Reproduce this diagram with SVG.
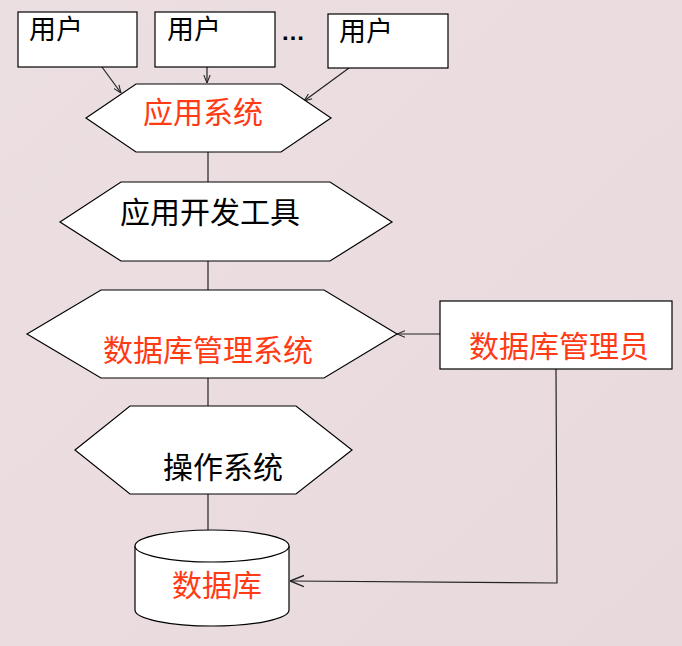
<svg xmlns="http://www.w3.org/2000/svg" width="682" height="646" viewBox="0 0 682 646">
  <style>
    .box { fill: #ffffff; stroke: #000000; stroke-width: 1.2; }
    .edge { fill: none; stroke: #222222; stroke-width: 1.2; }
    .t { font-family: "Liberation Serif", "Noto Sans CJK SC", serif; font-size: 30px; text-anchor: middle; dominant-baseline: central; }
    .blk { fill: #000000; }
    .red { fill: #ff3a14; }
    .usr { font-family: "Liberation Serif", "Noto Sans CJK SC", serif; font-size: 27px; fill: #000000; }
  </style>
  <defs>
    <linearGradient id="bg" x1="0" y1="0" x2="1" y2="1">
      <stop offset="0" stop-color="#ecdfe2"/>
      <stop offset="1" stop-color="#e8d9dc"/>
    </linearGradient>
    <marker id="arr" viewBox="0 0 10 10" refX="10" refY="5" markerWidth="8" markerHeight="8" orient="auto" markerUnits="userSpaceOnUse">
      <path d="M0,1 L10,5 L0,9" fill="none" stroke="#222222" stroke-width="1.3"/>
    </marker>
    <marker id="arrBig" viewBox="0 0 10 10" refX="10" refY="5" markerWidth="14" markerHeight="14" orient="auto" markerUnits="userSpaceOnUse">
      <path d="M0,1 L10,5 L0,9" fill="none" stroke="#222222" stroke-width="1"/>
    </marker>
  </defs>

  <rect width="682" height="646" fill="url(#bg)"/>

  <!-- connectors -->
  <g id="connectors">
    <line class="edge" x1="102" y1="67" x2="121" y2="93" marker-end="url(#arr)"/>
    <line class="edge" x1="207" y1="67" x2="207" y2="83" marker-end="url(#arr)"/>
    <line class="edge" x1="349" y1="68" x2="304" y2="101" marker-end="url(#arr)"/>
    <line class="edge" x1="208" y1="152" x2="208" y2="182"/>
    <line class="edge" x1="208" y1="261" x2="208" y2="290"/>
    <line class="edge" x1="208" y1="378" x2="208" y2="406"/>
    <line class="edge" x1="208" y1="494" x2="208" y2="530"/>
    <line class="edge" x1="440" y1="334" x2="397" y2="334" marker-end="url(#arr)"/>
    <polyline class="edge" points="556,369 557,583 290,581" marker-end="url(#arrBig)"/>
  </g>

  <!-- users -->
  <g id="user1">
    <rect class="box" x="18" y="12" width="119" height="55"/>
    <text class="usr" x="29" y="39">用户</text>
  </g>
  <g id="user2">
    <rect class="box" x="155" y="12" width="120" height="55"/>
    <text class="usr" x="167" y="39">用户</text>
  </g>
  <text x="293" y="40" font-family="Liberation Sans, sans-serif" font-size="24" font-weight="bold" text-anchor="middle" fill="#000">…</text>
  <g id="user3">
    <rect class="box" x="328" y="14" width="120" height="54"/>
    <text class="usr" x="339" y="41">用户</text>
  </g>

  <!-- application system -->
  <g id="app-system">
    <polygon class="box" points="86,118 136,84 281,84 331,118 281,152 136,152"/>
    <text class="t red" x="203" y="112">应用系统</text>
  </g>

  <!-- development tools -->
  <g id="dev-tools">
    <polygon class="box" points="60,222 121,182 330,182 392,222 330,261 121,261"/>
    <text class="t blk" x="210" y="212">应用开发工具</text>
  </g>

  <!-- DBMS -->
  <g id="dbms">
    <polygon class="box" points="27,334 101,290 324,290 397,334 324,378 101,378"/>
    <text class="t red" x="208" y="350">数据库管理系统</text>
  </g>

  <!-- DBA -->
  <g id="dba">
    <rect class="box" x="440" y="301" width="232" height="68"/>
    <text class="t red" x="559" y="346">数据库管理员</text>
  </g>

  <!-- operating system -->
  <g id="os">
    <polygon class="box" points="75,450 130,406 296,406 352,450 296,494 130,494"/>
    <text class="t blk" x="223" y="467">操作系统</text>
  </g>

  <!-- database cylinder -->
  <g id="database">
    <path class="box" d="M135,546 L135,610 A77,16 0 0 0 289,610 L289,546"/>
    <ellipse class="box" cx="212" cy="546" rx="77" ry="16"/>
    <text class="t red" x="217" y="585">数据库</text>
  </g>
</svg>
